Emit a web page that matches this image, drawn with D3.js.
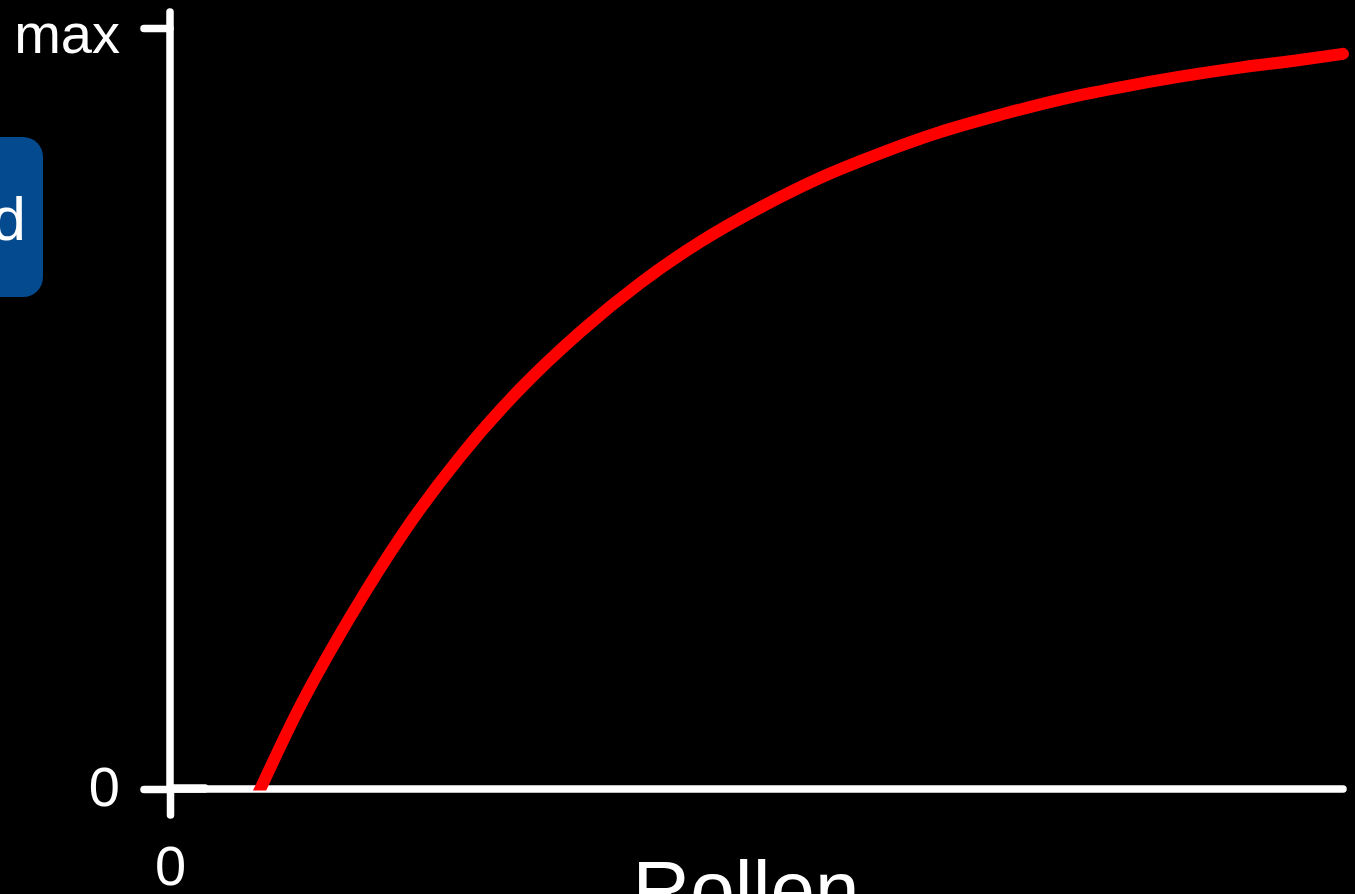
<!DOCTYPE html>
<html>
<head>
<meta charset="utf-8">
<script src="https://cdn.jsdelivr.net/npm/d3@7"></script>
<style>
  html, body { margin: 0; padding: 0; background: #000; }
  svg { display: block; }
  text { font-family: "Liberation Sans", Arial, sans-serif; fill: #fff; }
</style>
</head>
<body>
<svg id="chart" width="1355" height="894"></svg>
<script>
// ---- data ----
const curveX = [7.7, 10.8, 15.4, 20.0, 24.7, 29.8, 35.0, 40.1, 45.2, 50.3, 55.4, 60.5, 65.6, 70.8, 75.9, 81.0, 86.1, 91.2, 96.3, 100];
const curveY = [0, 10.0, 22.7, 33.9, 43.6, 52.5, 60.1, 66.5, 71.9, 76.4, 80.3, 83.5, 86.3, 88.6, 90.6, 92.2, 93.6, 94.8, 95.8, 96.6];
const yTickValues = [0, 100];
const yTickLabels = ["0", "max"];
const xTickValues = [0];
const xTickLabels = ["0"];
const xAxisTitle = "Rollen";
const sideLabel = "d";

// ---- layout ----
const W = 1355, H = 894;
const svg = d3.select("#chart");
svg.append("rect").attr("width", W).attr("height", H).attr("fill", "#000");

const x = d3.scaleLinear().domain([0, 100]).range([170, 1343]);
const y = d3.scaleLinear().domain([0, 100]).range([789, 28]);

const white = "#fff";
const axisW = 7.5;

// clip so the curve ends flat on the x axis
svg.append("defs").append("clipPath").attr("id", "plotclip")
  .append("rect").attr("x", 0).attr("y", 0).attr("width", W).attr("height", y(0) + 1.5);

// blue side label box (cut off at left edge)
svg.append("rect")
  .attr("x", -30).attr("y", 137).attr("width", 73).attr("height", 160)
  .attr("rx", 20).attr("ry", 20)
  .attr("fill", "#034A8F");
svg.append("text")
  .attr("x", 26).attr("y", 240)
  .attr("text-anchor", "end")
  .attr("font-size", 62)
  .text(sideLabel);

// y axis ticks
const yAxis = d3.axisLeft(y)
  .tickValues(yTickValues)
  .tickFormat((d, i) => yTickLabels[i])
  .tickSize(26)
  .tickPadding(24);
const gy = svg.append("g").attr("transform", `translate(${x(0)},0)`).call(yAxis);
gy.select(".domain").remove();
gy.selectAll(".tick line")
  .attr("stroke", white).attr("stroke-width", axisW).attr("stroke-linecap", "round");
gy.selectAll(".tick text")
  .attr("fill", white).attr("font-size", 56)
  .attr("font-family", "Liberation Sans, Arial, sans-serif")
  .attr("dy", (d) => d === 100 ? "0.43em" : "0.29em");

// x axis ticks
const xAxis = d3.axisBottom(x)
  .tickValues(xTickValues)
  .tickFormat((d, i) => xTickLabels[i])
  .tickSize(26)
  .tickPadding(30);
const gx = svg.append("g").attr("transform", `translate(0,${y(0)})`).call(xAxis);
gx.select(".domain").remove();
gx.selectAll(".tick line")
  .attr("stroke", white).attr("stroke-width", axisW).attr("stroke-linecap", "round");
gx.selectAll(".tick text")
  .attr("fill", white).attr("font-size", 56)
  .attr("font-family", "Liberation Sans, Arial, sans-serif")
  .attr("dy", "0.71em");

// axis lines
svg.append("line")
  .attr("x1", x(0)).attr("x2", x(0))
  .attr("y1", y(100) - 16).attr("y2", y(0))
  .attr("stroke", white).attr("stroke-width", axisW).attr("stroke-linecap", "round");
svg.append("line")
  .attr("x1", x(0)).attr("x2", x(100))
  .attr("y1", y(0)).attr("y2", y(0))
  .attr("stroke", white).attr("stroke-width", axisW).attr("stroke-linecap", "round");
// short thicker stub at the origin
svg.append("line")
  .attr("x1", x(0)).attr("x2", x(0) + 35)
  .attr("y1", y(0) - 0.5).attr("y2", y(0) - 0.5)
  .attr("stroke", white).attr("stroke-width", axisW + 1).attr("stroke-linecap", "round");

// x axis title
svg.append("text")
  .attr("x", 746).attr("y", 917)
  .attr("text-anchor", "middle")
  .attr("font-size", 80)
  .text(xAxisTitle);

// curve
const pts = curveX.map((v, i) => [v, curveY[i]]);
const line = d3.line().x(d => x(d[0])).y(d => y(d[1])).curve(d3.curveMonotoneX);
const gc = svg.append("g").attr("clip-path", "url(#plotclip)");
// extend slightly below the axis along the initial slope, then clip flat
const x0 = x(curveX[0]), y0 = y(curveY[0]);
const x1 = x(curveX[1]), y1 = y(curveY[1]);
const ext = 8 / (y0 - y1);
gc.append("path")
  .datum(pts)
  .attr("d", "M" + (x0 - (x1 - x0) * ext) + "," + (y0 + 8) + "L" + line(pts).slice(1))
  .attr("fill", "none")
  .attr("stroke", "#ff0000")
  .attr("stroke-width", 12)
  .attr("stroke-linecap", "butt")
  .attr("stroke-linejoin", "round");
gc.append("circle")
  .attr("cx", x(curveX[curveX.length - 1]))
  .attr("cy", y(curveY[curveY.length - 1]))
  .attr("r", 6).attr("fill", "#ff0000");
</script>
</body>
</html>
